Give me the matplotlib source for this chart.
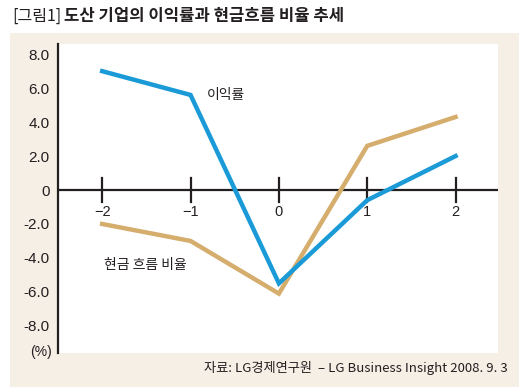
import matplotlib
matplotlib.use("Agg")
import matplotlib.pyplot as plt
from matplotlib.patches import Rectangle

plt.rcParams['font.family'] = ['Noto Sans CJK KR', 'DejaVu Sans']

years = [-2, -1, 0, 1, 2]
profit_rate = [7.0, 5.6, -5.5, -0.6, 2.0]
cashflow_ratio = [-2.0, -3.0, -6.1, 2.6, 4.3]
yticks = [8, 6, 4, 2, 0, -2, -4, -6, -8]
ytick_labels = ['8.0', '6.0', '4.0', '2.0', '0', '-2.0', '-4.0', '-6.0', '-8.0']
xtick_labels = ['\u22122', '\u22121', '0', '1', '2']

blue = '#1a9ad7'
tan = '#d5ad6c'
beige = '#f5efe6'
ink = '#231f20'
latin = ['Liberation Sans', 'DejaVu Sans']

fig = plt.figure(figsize=(5.19, 3.87), dpi=100)
W, H = 519, 387

bg = fig.add_axes([0, 0, 1, 1], zorder=-5)
bg.set_xlim(0, W)
bg.set_ylim(H, 0)
bg.axis('off')
bg.add_patch(Rectangle((10, 33), W - 10, H - 33, facecolor=beige, edgecolor='none'))

ax = fig.add_axes([58 / W, 1 - 353 / H, (498 - 58) / W, (353 - 44) / H], zorder=1)
ax.set_facecolor('white')
ax.set_xlim(-2.5, 2.48)
ax.set_ylim(-9.6, 8.6)

ax.plot(years, profit_rate, color=blue, lw=3.2, solid_joinstyle='miter', zorder=3)
ax.plot(years, cashflow_ratio, color=tan, lw=3.2, solid_joinstyle='miter', zorder=2)

ax.axhline(0, color=ink, lw=1.6, zorder=1)
for x, lab in zip(years, xtick_labels):
    ax.plot([x, x], [-0.7, 0.7], color=ink, lw=1.6, zorder=1)
    ax.text(x, -0.9, lab, ha='center', va='top', fontsize=10.5, color=ink, family=latin)

for s in ['top', 'right', 'bottom']:
    ax.spines[s].set_visible(False)
ax.spines['left'].set_color(ink)
ax.spines['left'].set_linewidth(1.6)
ax.set_xticks([])
ax.set_yticks(yticks)
ax.set_yticklabels(ytick_labels, fontsize=11, color=ink, family=latin)
ax.tick_params(axis='y', length=0, pad=6)

ax.text(-2.57, -9.95, '(%)', ha='right', va='bottom', fontsize=10, color=ink, family=latin,
        clip_on=False)

ax.text(-0.82, 5.6, '이익률', fontsize=10, fontweight='medium', color=ink, va='center', ha='left')
ax.text(-1.98, -4.4, '현금 흐름 비율', fontsize=10, fontweight='medium', color=ink,
        va='center', ha='left')

fig.text(12 / W, 1 - 16 / H, '[그림1]', fontsize=11.5, color=ink, va='center', ha='left')
fig.text(64 / W, 1 - 16 / H, '도산 기업의 이익률과 현금흐름 비율 추세', fontsize=12,
         fontweight='bold', color=ink, va='center', ha='left')

fig.text(508 / W, 1 - 368 / H, '자료: LG경제연구원  \u2013 LG Business Insight 2008. 9. 3',
         fontsize=9.5, color=ink, va='center', ha='right')

fig.savefig('out.png', dpi=100)
